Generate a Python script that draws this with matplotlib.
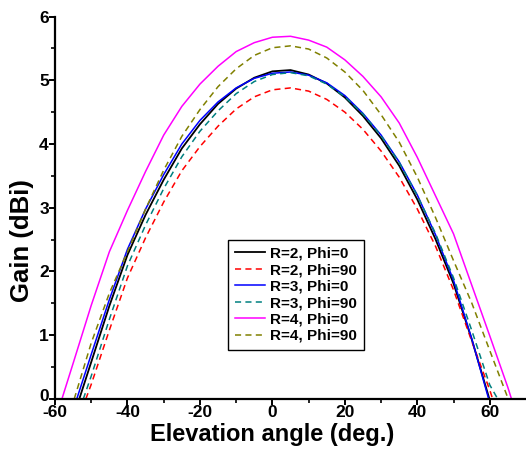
import numpy as np
import matplotlib
matplotlib.use("Agg")
import matplotlib.pyplot as plt
import matplotlib.transforms as mtransforms

plt.rcParams['font.family'] = ['Liberation Sans', 'DejaVu Sans']
plt.rcParams['font.weight'] = 'bold'
plt.rcParams['axes.unicode_minus'] = False

# elevation angle (deg) and gain (dBi)
grid = [-50, -45, -40, -35, -30, -25, -20, -15, -10, -5, 0, 5, 10, 15, 20, 25, 30, 35, 40, 45, 50, 55]

r2_phi0_ang = [-53.3] + grid + [59.9]
r2_phi0_gain = [0, 0.58, 1.46, 2.26, 2.89, 3.44, 3.93, 4.31, 4.63, 4.87, 5.04, 5.14, 5.16,
                5.09, 4.95, 4.73, 4.44, 4.09, 3.66, 3.13, 2.51, 1.81, 0.94, 0]

r2_phi90_ang = [-51.5] + grid + [60, 60.8]
r2_phi90_gain = [0, 0.23, 1.08, 1.9, 2.53, 3.09, 3.58, 3.96, 4.28, 4.55, 4.74, 4.85, 4.88,
                 4.83, 4.7, 4.5, 4.23, 3.89, 3.48, 2.98, 2.4, 1.71, 0.91, 0.14, 0]

r3_phi0_ang = [-54.0] + grid + [59.7]
r3_phi0_gain = [0, 0.7, 1.56, 2.35, 2.98, 3.52, 4.0, 4.37, 4.66, 4.88, 5.03, 5.11, 5.13,
                5.08, 4.96, 4.76, 4.48, 4.14, 3.72, 3.2, 2.58, 1.86, 0.95, 0]

r3_phi90_ang = [-52.2] + grid + [60, 62.2]
r3_phi90_gain = [0, 0.36, 1.25, 2.09, 2.73, 3.3, 3.8, 4.2, 4.52, 4.79, 4.98, 5.09, 5.12,
                 5.07, 4.94, 4.74, 4.47, 4.13, 3.71, 3.19, 2.6, 1.9, 1.08, 0.22, 0]

r4_phi0_ang = [-58.1, -55] + grid + [60, 65, 66.0]
r4_phi0_gain = [0, 0.56, 1.47, 2.31, 2.96, 3.57, 4.14, 4.59, 4.94, 5.22, 5.45, 5.59, 5.675, 5.69,
                5.63, 5.52, 5.32, 5.06, 4.74, 4.33, 3.79, 3.19, 2.59, 1.79, 0.99, 0.18, 0]

r4_phi90_ang = [-54.7] + grid + [60, 65.1]
r4_phi90_gain = [0, 0.88, 1.66, 2.31, 2.98, 3.59, 4.12, 4.54, 4.9, 5.18, 5.39, 5.51, 5.54,
                 5.49, 5.35, 5.13, 4.84, 4.46, 4.03, 3.48, 2.85, 2.17, 1.51, 0.76, 0]

dash = (0, (4, 2.8))

fig = plt.figure(figsize=(5.26, 4.49), dpi=100)
ax = fig.add_axes([0.1046, 0.1114, 0.8954, 0.8518])

ax.plot(r2_phi0_ang, r2_phi0_gain, color='black', lw=1.3, label='R=2, Phi=0')
ax.plot(r2_phi90_ang, r2_phi90_gain, color='#ff0000', lw=1.1, ls=dash, label='R=2, Phi=90')
ax.plot(r3_phi0_ang, r3_phi0_gain, color='#0000ff', lw=1.1, label='R=3, Phi=0')
ax.plot(r3_phi90_ang, r3_phi90_gain, color='#008080', lw=1.1, ls=dash, label='R=3, Phi=90')
ax.plot(r4_phi0_ang, r4_phi0_gain, color='#ff00ff', lw=1.1, label='R=4, Phi=0')
ax.plot(r4_phi90_ang, r4_phi90_gain, color='#808000', lw=1.1, ls=dash, label='R=4, Phi=90')

ax.set_xlim(-60, 70)
ax.set_ylim(0, 6)
ax.set_xticks(np.arange(-60, 61, 20))
ax.set_xticks(np.arange(-50, 61, 20), minor=True)
ax.set_yticks(np.arange(0, 7, 1))
ax.set_yticks(np.arange(0.5, 6, 1), minor=True)

for s in ['top', 'right']:
    ax.spines[s].set_visible(False)
for s in ['left', 'bottom']:
    ax.spines[s].set_linewidth(1.6)

ax.tick_params(which='major', direction='out', length=4, width=1.4, labelsize=12.5, pad=0.5)
ax.tick_params(which='minor', direction='out', length=3, width=1.2)
for t in ax.get_xticklabels() + ax.get_yticklabels():
    t.set_fontweight('bold')

# lift the y "0" a little so it clears the "-60" below it
zero_lab = ax.get_yticklabels()[0]
zero_lab.set_transform(zero_lab.get_transform() +
                       mtransforms.ScaledTranslation(0, 3 / 72, fig.dpi_scale_trans))

ax.set_xlabel('Elevation angle (deg.)', fontsize=17, fontweight='bold')
ax.set_ylabel('Gain (dBi)', fontsize=18.5, fontweight='bold')
ax.xaxis.set_label_coords(0.4615, -0.064)
ax.yaxis.set_label_coords(-0.045, 0.413)

leg = ax.legend(loc='upper left', bbox_to_anchor=(0.367, 0.416), fontsize=11,
                frameon=True, fancybox=False, edgecolor='black', framealpha=1,
                handlelength=2.0, handletextpad=0.3, labelspacing=0.16,
                borderpad=0.45, borderaxespad=0)
leg.get_frame().set_linewidth(1.0)
for t in leg.get_texts():
    t.set_fontweight('bold')

fig.savefig('out.png', dpi=100)
